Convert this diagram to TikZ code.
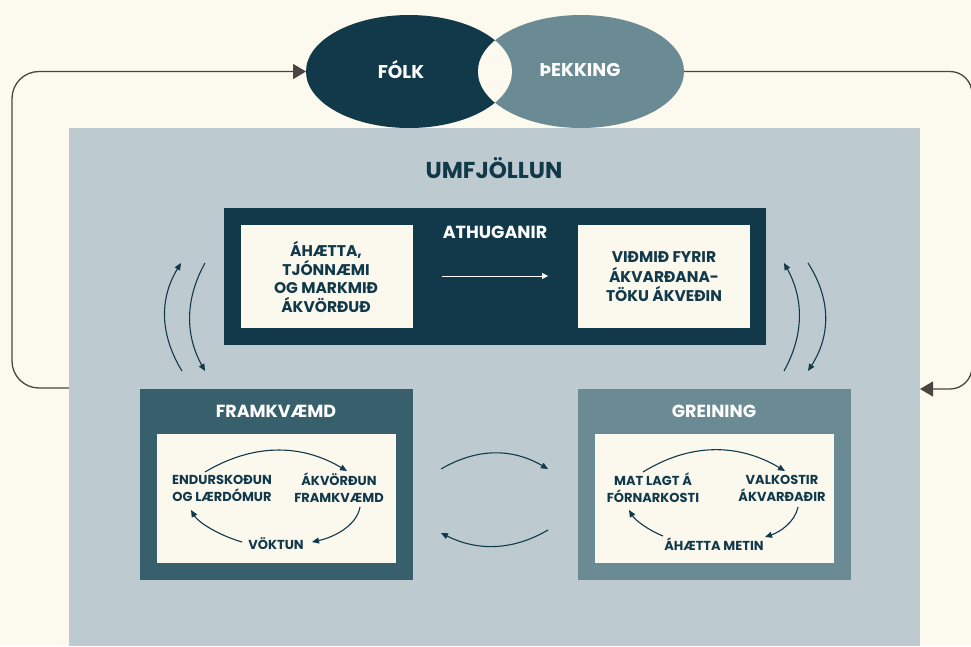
\documentclass[tikz,border=0pt]{standalone}
\usepackage{fontspec}
\setmainfont{Poppins}
\usetikzlibrary{arrows.meta,shapes.geometric}
\definecolor{bgcream}{HTML}{FCFAEF}
\definecolor{panelgray}{HTML}{BDCACF}
\definecolor{darkteal}{HTML}{11394A}
\definecolor{midteal}{HTML}{385F6C}
\definecolor{lightteal}{HTML}{6B8B94}
\definecolor{innercream}{HTML}{FBF8EE}
\definecolor{conngray}{HTML}{4A4542}
\tikzset{
  box/.style={inner sep=0pt, outer sep=0pt, draw=none},
  title/.style={text=white, font=\bfseries\fontsize{17.5}{20}\selectfont, inner sep=0pt},
  boxtext/.style={text=darkteal, align=center, font=\bfseries\fontsize{15.5}{18.5}\selectfont, inner sep=0pt},
  smalltext/.style={text=darkteal, align=center, font=\bfseries\fontsize{13}{17}\selectfont, inner sep=0pt},
  loopconn/.style={draw=conngray, line width=1.3pt, -{Triangle[length=13pt,width=15pt]}},
  flow/.style={draw=darkteal, line width=1.1pt, -{Triangle[length=7pt,width=6pt]}},
}
\begin{document}
\begin{tikzpicture}[x=1pt,y=-1pt]
\useasboundingbox (0,0) rectangle (971,646);
\fill[bgcream] (0,0) rectangle (971,646);

% main panel
\node[box, fill=panelgray, minimum width=851pt, minimum height=518pt] (panel) at (494.5,387) {};
\node[text=darkteal, font=\bfseries\fontsize{23}{26}\selectfont, inner sep=0pt] (umf) at (494,168) {UMFJÖLLUN};

% overlapping ellipses
\node[box, ellipse, fill=darkteal, minimum width=206pt, minimum height=113pt] (folkshape) at (409,71.5) {};
\node[box, ellipse, fill=lightteal, minimum width=206pt, minimum height=113pt] (thekshape) at (581,71.5) {};
\begin{scope}
  \clip (409,71.5) ellipse [x radius=103, y radius=56.5];
  \fill[bgcream] (581,71.5) ellipse [x radius=103, y radius=56.5];
\end{scope}
\node[title, font=\bfseries\fontsize{18.5}{21}\selectfont] (folk) at (401,70) {FÓLK};
\node[title, font=\bfseries\fontsize{18.5}{21}\selectfont] (thekking) at (580,70) {ÞEKKING};

% outer loop connectors
\coordinate (lstart) at (panel.west |- 0,388);
\coordinate (lc1) at (12,388);
\coordinate (lc2) at (12,71.5);
\draw[loopconn, rounded corners=27pt] (lstart) -- (lc1) -- (lc2) -- (folkshape.west);
\coordinate (rc1) at (972,71.5);
\coordinate (rc2) at (972,389);
\coordinate (rend) at (panel.east |- 0,389);
\draw[loopconn, rounded corners=22pt] (thekshape.east) -- (rc1) -- (rc2) -- (rend);

% ATHUGANIR
\node[box, fill=darkteal, minimum width=542pt, minimum height=137pt] (athbox) at (495,276.5) {};
\node[title] (ath) at (495,232) {ATHUGANIR};
\node[box, fill=innercream, minimum width=172pt, minimum height=103pt] (lwhite) at (327,276.5) {};
\node[boxtext] (ltext) at (326,277) {ÁHÆTTA,\\TJÓNNÆMI\\OG MARKMIÐ\\ÁKVÖRÐUÐ};
\node[box, fill=innercream, minimum width=172pt, minimum height=103pt] (rwhite) at (664,276.5) {};
\node[boxtext, font=\bfseries\fontsize{15.5}{19.5}\selectfont] (rtext) at (664,277) {VIÐMIÐ FYRIR\\ÁKVARÐANA-\\TÖKU ÁKVEÐIN};
\coordinate (wa1) at (442,276);
\coordinate (wa2) at (548,276);
\draw[draw=white, line width=1pt, -{Triangle[length=6pt,width=6pt]}] (wa1) -- (wa2);

% FRAMKVAEMD
\node[box, fill=midteal, minimum width=273pt, minimum height=191pt] (frambox) at (276.5,484.5) {};
\node[title] (framt) at (276,411) {FRAMKVÆMD};
\node[box, fill=innercream, minimum width=239pt, minimum height=129pt] (framin) at (276.5,498.5) {};
\node[smalltext] (endur) at (222,488) {ENDURSKOÐUN\\OG LÆRDÓMUR};
\node[smalltext] (akv) at (339,488) {ÁKVÖRÐUN\\FRAMKVÆMD};
\node[smalltext] (vok) at (276,544) {VÖKTUN};

% GREINING
\node[box, fill=lightteal, minimum width=273pt, minimum height=191pt] (greinbox) at (714.5,484.5) {};
\node[title] (greint) at (714,411) {GREINING};
\node[box, fill=innercream, minimum width=239pt, minimum height=129pt] (greinin) at (714.5,498.5) {};
\node[smalltext] (mat) at (653,488) {MAT LAGT Á\\FÓRNARKOSTI};
\node[smalltext] (valk) at (782,488) {VALKOSTIR\\ÁKVARÐAÐIR};
\node[smalltext] (ahm) at (714,544) {ÁHÆTTA METIN};

% side arcs (left)
\coordinate (la1s) at (182,371); \coordinate (la1e) at (181,263);
\draw[flow] (la1s) .. controls (160,335) and (159,299) .. (la1e);
\coordinate (la2s) at (205,263); \coordinate (la2e) at (205,371);
\draw[flow] (la2s) .. controls (185,299) and (185,335) .. (la2e);
% side arcs (right)
\coordinate (ra1s) at (784,371); \coordinate (ra1e) at (784,263);
\draw[flow] (ra1s) .. controls (804,335) and (804,299) .. (ra1e);
\coordinate (ra2s) at (808,263); \coordinate (ra2e) at (808,371);
\draw[flow] (ra2s) .. controls (831,299) and (831,335) .. (ra2e);
% middle arcs
\coordinate (ma1s) at (441,469); \coordinate (ma1e) at (548,469);
\draw[flow] (ma1s) .. controls (477,448) and (512,448) .. (ma1e);
\coordinate (ma2s) at (548,530); \coordinate (ma2e) at (441,533);
\draw[flow] (ma2s) .. controls (512,551) and (477,551) .. (ma2e);

% FRAMKVAEMD cycle
\coordinate (f1s) at (205,472); \coordinate (f1e) at (347,471);
\draw[flow] (f1s) .. controls (252,444) and (300,443) .. (f1e);
\coordinate (f2s) at (360,507); \coordinate (f2e) at (312,542);
\draw[flow] (f2s) .. controls (357,525) and (335,537) .. (f2e);
\coordinate (f3s) at (242,542); \coordinate (f3e) at (191,510);
\draw[flow] (f3s) .. controls (218,535) and (198,522) .. (f3e);

% GREINING cycle
\coordinate (g1s) at (643,472); \coordinate (g1e) at (785,471);
\draw[flow] (g1s) .. controls (690,443) and (738,443) .. (g1e);
\coordinate (g2s) at (798,507); \coordinate (g2e) at (765,537);
\draw[flow] (g2s) .. controls (795,522) and (780,532) .. (g2e);
\coordinate (g3s) at (663,536); \coordinate (g3e) at (629,510);
\draw[flow] (g3s) .. controls (648,530) and (635,520) .. (g3e);
\end{tikzpicture}
\end{document}
